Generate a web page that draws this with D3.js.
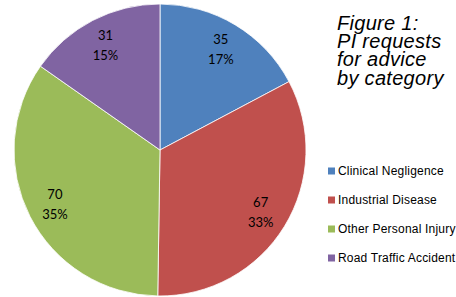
<!DOCTYPE html>
<html>
<head>
<meta charset="utf-8">
<script src="https://cdn.jsdelivr.net/npm/d3@7"></script>
<style>
  body { margin: 0; background: #fff; }
  svg { display: block; }
</style>
</head>
<body>
<div id="chart"></div>
<script>
// PI requests for advice by category
const categories = ["Clinical Negligence", "Industrial Disease", "Other Personal Injury", "Road Traffic Accident"];
const counts = [35, 67, 70, 31];
const percentLabels = ["17%", "33%", "35%", "15%"];
const titleLines = ["Figure 1:", "PI requests", "for advice", "by category"];

const colorMap = {
    "Clinical Negligence": "#4F81BD",
    "Industrial Disease": "#C0504D",
    "Other Personal Injury": "#9BBB59",
    "Road Traffic Accident": "#8064A2"
};

const width = 456, height = 297;
const cx = 160, cy = 150, radius = 146;

const svg = d3.select("#chart").append("svg")
    .attr("width", width)
    .attr("height", height);

const data = categories.map((c, i) => ({ name: c, value: counts[i], pct: percentLabels[i] }));

const pie = d3.pie().sort(null).value(d => d.value);
const arc = d3.arc().innerRadius(0).outerRadius(radius);
const labelArc = d3.arc().innerRadius(118).outerRadius(118);

const g = svg.append("g")
    .attr("transform", `translate(${cx},${cy})`);

const slices = g.selectAll(".slice")
    .data(pie(data))
    .enter().append("g")
    .attr("class", "slice");

slices.append("path")
    .attr("d", arc)
    .attr("fill", d => colorMap[d.data.name])
    .attr("stroke", "#fff")
    .attr("stroke-width", 0.8);

const labels = slices.append("text")
    .attr("transform", d => `translate(${labelArc.centroid(d)})`)
    .attr("text-anchor", "middle")
    .style("font-family", "Lato, 'Open Sans', sans-serif")
    .style("font-size", "13px")
    .style("fill", "#000");

labels.append("tspan")
    .attr("x", 0)
    .attr("y", -5)
    .text(d => d.data.value);

labels.append("tspan")
    .attr("x", 0)
    .attr("y", 15)
    .text(d => d.data.pct);

// Title
const title = svg.append("text")
    .style("font-family", "'Liberation Sans', Arial, sans-serif")
    .style("font-style", "italic")
    .style("font-size", "20px")
    .style("letter-spacing", "0.3px")
    .style("fill", "#000");

title.selectAll("tspan")
    .data(titleLines)
    .enter().append("tspan")
    .attr("x", 337)
    .attr("y", (d, i) => 29.5 + i * 18.4)
    .text(d => d);

// Legend
const legend = svg.selectAll(".legend")
    .data(categories)
    .enter().append("g")
    .attr("class", "legend")
    .attr("transform", (d, i) => `translate(328,${171 + i * 29})`);

legend.append("rect")
    .attr("x", 0)
    .attr("y", -3.5)
    .attr("width", 7)
    .attr("height", 7)
    .attr("fill", d => colorMap[d]);

legend.append("text")
    .attr("x", 10)
    .attr("y", 0)
    .attr("dy", "0.35em")
    .style("font-family", "'Liberation Sans', Arial, sans-serif")
    .style("font-size", "12px")
    .style("letter-spacing", "0.2px")
    .style("fill", "#000")
    .text(d => d);
</script>
</body>
</html>
